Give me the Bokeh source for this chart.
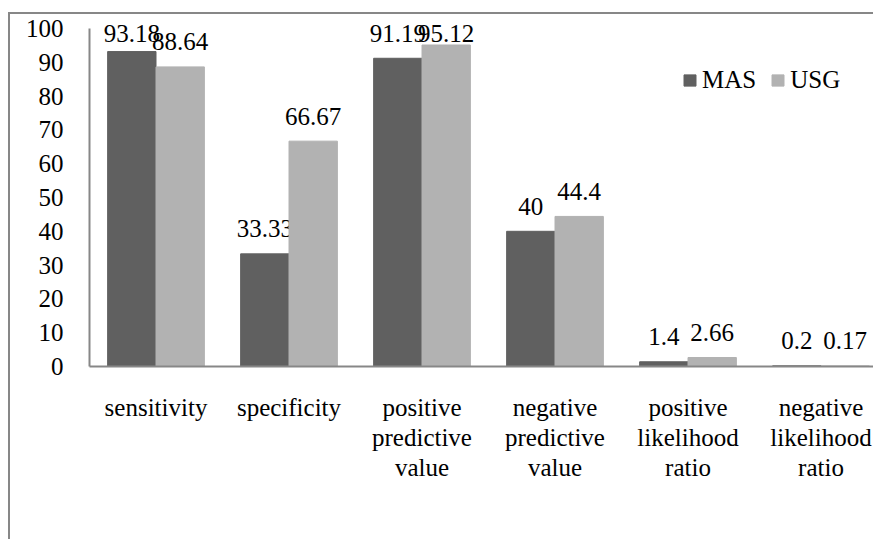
from bokeh.plotting import figure
from bokeh.models import Range1d, FixedTicker, ColumnDataSource, Legend, LegendItem
from bokeh.core.properties import value
from bokeh.embed import file_html
from bokeh.resources import INLINE

# ---- data ----
categories = ["sensitivity", "specificity", "positive\npredictive\nvalue",
              "negative\npredictive\nvalue", "positive\nlikelihood\nratio",
              "negative\nlikelihood\nratio"]
mas = [93.18, 33.33, 91.19, 40, 1.4, 0.2]
usg = [88.64, 66.67, 95.12, 44.4, 2.66, 0.17]
series = ["MAS", "USG"]
y_ticks = [0, 10, 20, 30, 40, 50, 60, 70, 80, 90, 100]

# ---- layout constants ----
FONT = "Liberation Serif"
FS = "25px"
W, H = 865, 527
ML = 79
CAT_PX = 133.0
frame_h = 352
MB = H - frame_h
frame_w = W - ML
ppu = 3.38
y_end = frame_h / ppu
x_end = frame_w / CAT_PX
colors = ["#606060", "#b2b2b2"]
bar_w = 1 / 2.75
offs = [-bar_w / 2, bar_w / 2]

p = figure(width=W, height=H, output_backend="svg", toolbar_location=None,
           x_range=Range1d(0, x_end), y_range=Range1d(0, y_end),
           min_border_left=ML, min_border_right=0, min_border_top=0,
           min_border_bottom=MB)
p.styles = {"border-left": "2px solid #878787", "border-top": "2px solid #878787",
            "margin-top": "12px", "margin-left": "8px"}
p.outline_line_color = None
p.xgrid.visible = False
p.ygrid.visible = False

xs = [i + 0.5 for i in range(len(categories))]
renderers = []
for vals, col, off, name in zip([mas, usg], colors, offs, series):
    src = ColumnDataSource(dict(
        x=[x + off for x in xs], top=vals,
        lab=[f"{v:g}" for v in vals],
        yo=[-min(25.0, (y_end - v) * ppu - 19.0) for v in vals]))
    r = p.vbar(x="x", top="top", width=bar_w, bottom=0, source=src,
               fill_color=col, line_color=col)
    renderers.append((name, r))
    p.text(x="x", y="top", text="lab", source=src, y_offset="yo",
           text_align="center", text_baseline="alphabetic",
           text_font=value(FONT), text_font_size=FS, text_color="black")

# axes
ax = p.xaxis[0]
ax.ticker = FixedTicker(ticks=xs)
ax.major_label_overrides = {x: c for x, c in zip(xs, categories)}
ax.major_tick_in = 0
ax.major_tick_out = 0
ax.minor_tick_in = 0
ax.minor_tick_out = 0
ax.axis_line_color = "#878787"
ax.axis_line_width = 2
ax.major_label_text_font = FONT
ax.major_label_text_font_size = FS
ax.major_label_text_color = "black"
ax.major_label_text_line_height = 1.125
ax.major_label_standoff = 27

ay = p.yaxis[0]
ay.ticker = FixedTicker(ticks=y_ticks)
ay.bounds = (0, 100)
ay.major_tick_in = 0
ay.major_tick_out = 0
ay.minor_tick_in = 0
ay.minor_tick_out = 0
ay.axis_line_color = "#878787"
ay.axis_line_width = 2
ay.major_label_text_font = FONT
ay.major_label_text_font_size = FS
ay.major_label_text_color = "black"
ay.major_label_standoff = 26

legend = Legend(items=[LegendItem(label=n, renderers=[r]) for n, r in renderers],
                orientation="horizontal", location=(593, 272),
                glyph_width=15, glyph_height=14, label_standoff=5, spacing=14,
                padding=0, margin=0, border_line_color=None,
                background_fill_alpha=0,
                label_text_font=FONT, label_text_font_size=FS,
                label_text_color="black")
p.add_layout(legend, "center")

open("out.html", "w").write(file_html(p, INLINE))
